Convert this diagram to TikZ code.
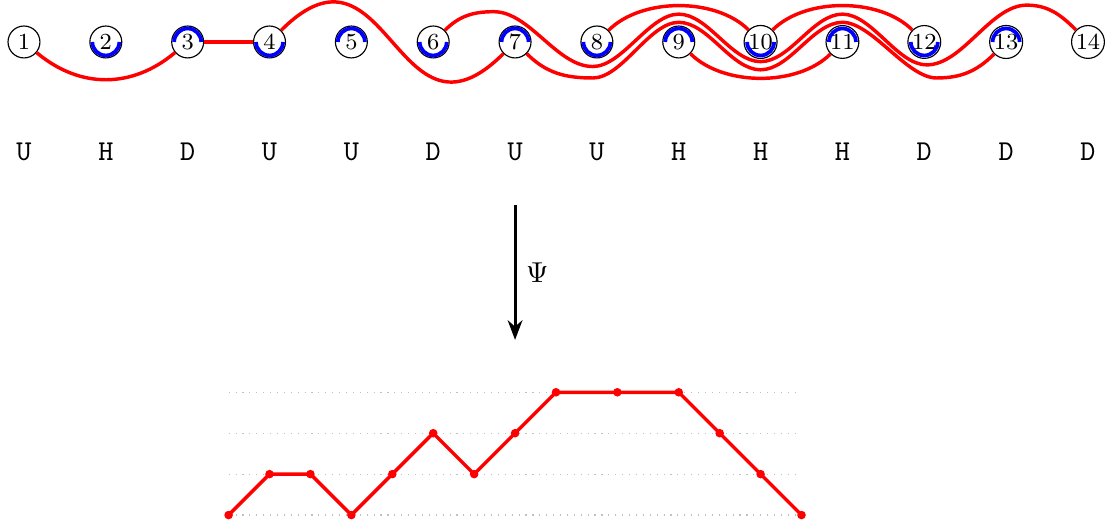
\documentclass[tikz,border=0pt]{standalone}
\usepackage{amsmath, amssymb}
\usetikzlibrary{arrows.meta, positioning}

\begin{document}
\begin{tikzpicture}[
    node distance=1cm, on grid,
    vtx/.style={circle, draw=black, fill=white, minimum size=0.39cm,
                inner sep=0.5pt, font=\footnotesize},
    lbl/.style={font=\ttfamily},
    link/.style={draw=red, line width=1.2pt},
    swing/.style={out=0, in=180, distance=3.6mm},
    longswing/.style={out=0, in=180, distance=4.4mm},
    half/.style={draw=blue, line width=1.3pt},
    pathdot/.style={circle, fill=red, minimum size=1.05mm, inner sep=0pt},
    walk/.style={draw=red, line width=1.2pt},
    guide/.style={draw=black!25, dotted, line width=0.4pt},
    maparr/.style={-{Stealth[length=2.4mm, width=1.8mm]}, line width=1pt}
]
\useasboundingbox (-0.293,0.513) rectangle (13.22,-5.901);

\node[vtx]                (n1)  {1};
\node[vtx, right=of n1]   (n2)  {2};
\node[vtx, right=of n2]   (n3)  {3};
\node[vtx, right=of n3]   (n4)  {4};
\node[vtx, right=of n4]   (n5)  {5};
\node[vtx, right=of n5]   (n6)  {6};
\node[vtx, right=of n6]   (n7)  {7};
\node[vtx, right=of n7]   (n8)  {8};
\node[vtx, right=of n8]   (n9)  {9};
\node[vtx, right=of n9]   (n10) {10};
\node[vtx, right=of n10]  (n11) {11};
\node[vtx, right=of n11]  (n12) {12};
\node[vtx, right=of n12]  (n13) {13};
\node[vtx, right=of n13]  (n14) {14};

\draw[half] ([xshift=-1.65mm]n2.center)  arc[start angle=180, end angle=360, radius=1.65mm];
\draw[half] ([xshift=1.65mm]n3.center)   arc[start angle=0, end angle=180, radius=1.65mm];
\draw[half] ([xshift=-1.65mm]n4.center)  arc[start angle=180, end angle=360, radius=1.65mm];
\draw[half] ([xshift=1.65mm]n5.center)   arc[start angle=0, end angle=180, radius=1.65mm];
\draw[half] ([xshift=-1.65mm]n6.center)  arc[start angle=180, end angle=360, radius=1.65mm];
\draw[half] ([xshift=1.65mm]n7.center)   arc[start angle=0, end angle=180, radius=1.65mm];
\draw[half] ([xshift=-1.65mm]n8.center)  arc[start angle=180, end angle=360, radius=1.65mm];
\draw[half] ([xshift=1.65mm]n9.center)   arc[start angle=0, end angle=180, radius=1.65mm];
\draw[half] ([xshift=-1.65mm]n10.center) arc[start angle=180, end angle=360, radius=1.65mm];
\draw[half] ([xshift=1.65mm]n11.center)  arc[start angle=0, end angle=180, radius=1.65mm];
\draw[half] ([xshift=-1.65mm]n12.center) arc[start angle=180, end angle=360, radius=1.65mm];
\draw[half] ([xshift=1.65mm]n13.center)  arc[start angle=0, end angle=180, radius=1.65mm];

\draw[link] (n1) .. controls +(-40:0.89) and +(-140:0.89) .. (n3);
\draw[link] (n3) -- (n4);
\draw[link] (n4) .. controls +(45:2.05) and +(-135:2.05) .. (n7);
\draw[link] (n6) to[out=45, in=180] ([xshift=-2.6mm, yshift=3.7mm]n7.center)
                 to[longswing] ([xshift=-0.5mm, yshift=-3mm]n8.center)
                 to[swing] ([yshift=3.4mm]n9.center)
                 to[swing] ([yshift=-2.4mm]n10.center)
                 to[swing] ([yshift=3.4mm]n11.center)
                 to[swing] ([xshift=0.3mm, yshift=-2.8mm]n12.center)
                 to[longswing] ([xshift=2.5mm, yshift=4.5mm]n13.center) to[out=0, in=135] (n14);
\draw[link] (n7) to[out=-45, in=180] ([xshift=-0.5mm, yshift=-4.4mm]n8.center)
                 to[swing] ([yshift=2.4mm]n9.center)
                 to[swing] ([yshift=-3.4mm]n10.center)
                 to[swing] ([yshift=2.4mm]n11.center)
                 to[swing] ([xshift=1.5mm, yshift=-4.4mm]n12.center) to[out=0, in=-135] (n13);
\draw[link] (n8)  .. controls +(45:0.77) and +(135:0.77) .. (n10);
\draw[link] (n10) .. controls +(45:0.77) and +(135:0.77) .. (n12);
\draw[link] (n9)  .. controls +(-45:0.77) and +(-135:0.77) .. (n11);

\node[lbl, below=13.44mm of n1]  (l1)  {U};
\node[lbl, below=13.44mm of n2]  (l2)  {H};
\node[lbl, below=13.44mm of n3]  (l3)  {D};
\node[lbl, below=13.44mm of n4]  (l4)  {U};
\node[lbl, below=13.44mm of n5]  (l5)  {U};
\node[lbl, below=13.44mm of n6]  (l6)  {D};
\node[lbl, below=13.44mm of n7]  (l7)  {U};
\node[lbl, below=13.44mm of n8]  (l8)  {U};
\node[lbl, below=13.44mm of n9]  (l9)  {H};
\node[lbl, below=13.44mm of n10] (l10) {H};
\node[lbl, below=13.44mm of n11] (l11) {H};
\node[lbl, below=13.44mm of n12] (l12) {D};
\node[lbl, below=13.44mm of n13] (l13) {D};
\node[lbl, below=13.44mm of n14] (l14) {D};

\coordinate[below=19.9mm of n7] (psitop);
\coordinate[below=36.4mm of n7] (psibot);
\draw[maparr] (psitop) -- node[right] {$\Psi$} (psibot);

\foreach \h in {0,...,3}
    \draw[guide] (2.5,{-5.78+0.5*\h}) -- (9.5,{-5.78+0.5*\h});

\node[pathdot] (p0)  at (2.5,-5.78)  {};
\node[pathdot] (p1)  at (3,-5.28)    {};
\node[pathdot] (p2)  at (3.5,-5.28)  {};
\node[pathdot] (p3)  at (4,-5.78)    {};
\node[pathdot] (p4)  at (4.5,-5.28)  {};
\node[pathdot] (p5)  at (5,-4.78)    {};
\node[pathdot] (p6)  at (5.5,-5.28)  {};
\node[pathdot] (p7)  at (6,-4.78)    {};
\node[pathdot] (p8)  at (6.5,-4.28)  {};
\node[pathdot] (p9)  at (7.25,-4.28) {};
\node[pathdot] (p10) at (8,-4.28)    {};
\node[pathdot] (p11) at (8.5,-4.78)  {};
\node[pathdot] (p12) at (9,-5.28)    {};
\node[pathdot] (p13) at (9.5,-5.78)  {};

\draw[walk] (p0.center) -- (p1.center) -- (p2.center) -- (p3.center) -- (p4.center)
         -- (p5.center) -- (p6.center) -- (p7.center) -- (p8.center) -- (p9.center)
         -- (p10.center) -- (p11.center) -- (p12.center) -- (p13.center);
\end{tikzpicture}
\end{document}
